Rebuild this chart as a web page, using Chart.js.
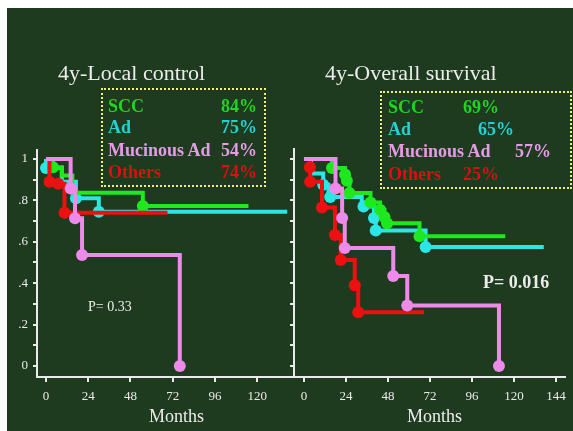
<!DOCTYPE html>
<html>
<head>
<meta charset="utf-8">
<script src="https://cdn.jsdelivr.net/npm/chart.js@4.4.0/dist/chart.umd.min.js"></script>
<style>
  body { margin: 0; background: #fff; width: 573px; height: 431px; overflow: hidden; position: relative;
         font-family: 'Liberation Serif', 'Times New Roman', serif; }
  #bg { position: absolute; left: 7px; top: 8px; width: 566px; height: 423px; background: #1e3a1f; }
  canvas { position: absolute; top: 0; }
  .t { position: absolute; white-space: nowrap; line-height: 1; }
  .w { color: #ececec; }
  .b { font-weight: bold; font-size: 18px; }
  .box { position: absolute; border: 2px dotted #eef07a; box-sizing: border-box; }
  .scc { color: #22d422; } .ad { color: #26d0d0; } .muc { color: #e49ce4; } .oth { color: #dd1010; }
</style>
</head>
<body>
<div id="bg"></div>
<canvas id="lcChart" width="300" height="431" style="left:0"></canvas>
<canvas id="osChart" width="293" height="431" style="left:280px"></canvas>

<div class="t w" style="left:58px;top:62px;font-size:22px">4y-Local control</div>
<div class="t w" style="left:325px;top:62px;font-size:22px">4y-Overall survival</div>

<div class="box" style="left:101px;top:88px;width:165px;height:99px"></div>
<div class="t b scc" style="left:108px;top:97px">SCC</div>
<div class="t b ad" style="left:108px;top:118px">Ad</div>
<div class="t b muc" style="left:108px;top:141px">Mucinous Ad</div>
<div class="t b oth" style="left:108px;top:163px">Others</div>
<div class="t b scc" style="left:200px;width:57px;text-align:right;top:97px">84%</div>
<div class="t b ad" style="left:200px;width:57px;text-align:right;top:118px">75%</div>
<div class="t b muc" style="left:200px;width:57px;text-align:right;top:141px">54%</div>
<div class="t b oth" style="left:200px;width:57px;text-align:right;top:163px">74%</div>

<div class="box" style="left:380px;top:91px;width:192px;height:98px"></div>
<div class="t b scc" style="left:388px;top:98px">SCC</div>
<div class="t b ad" style="left:388px;top:120px">Ad</div>
<div class="t b muc" style="left:388px;top:142px">Mucinous Ad</div>
<div class="t b oth" style="left:388px;top:165px">Others</div>
<div class="t b scc" style="left:463px;top:98px">69%</div>
<div class="t b ad" style="left:478px;top:120px">65%</div>
<div class="t b muc" style="left:515px;top:142px">57%</div>
<div class="t b oth" style="left:463px;top:165px">25%</div>

<div class="t w" style="left:88px;top:300px;font-size:14px">P= 0.33</div>
<div class="t w" style="left:483px;top:273px;font-size:18px;font-weight:bold">P= 0.016</div>

<div class="t w" style="left:149px;top:407px;font-size:18px">Months</div>
<div class="t w" style="left:407px;top:407px;font-size:18px">Months</div>

<script>
// ticks
const yTickValues = [0, 0.1, 0.2, 0.3, 0.4, 0.5, 0.6, 0.7, 0.8, 0.9, 1];
const lcYLabels = ['0', '', '.2', '', '.4', '', '.6', '', '.8', '', '1'];
const osYLabels = ['', '', '', '', '', '', '', '', '', '', ''];
const lcXTicks = [0, 24, 48, 72, 96, 120];
const osXTicks = [0, 24, 48, 72, 96, 120, 144];

// 4y-Local control (marks: 1 = circle drawn at that step)
const lcSccMonths = [0, 4, 9, 15, 55, 115];
const lcSccSurv   = [1, 0.96, 0.92, 0.836, 0.773, 0.773];
const lcSccMarks  = [0, 1, 0, 0, 1, 0];
const lcAdMonths = [0, 0, 9, 17, 30, 137];
const lcAdSurv   = [1, 0.956, 0.89, 0.81, 0.745, 0.745];
const lcAdMarks  = [0, 1, 0, 1, 1, 0];
const lcMucMonths = [0, 14, 16.5, 20.5, 76];
const lcMucSurv   = [1, 0.857, 0.714, 0.536, 0];
const lcMucMarks  = [0, 1, 1, 1, 1];
const lcOthMonths = [0, 2, 7, 10.5, 69];
const lcOthSurv   = [1, 0.89, 0.88, 0.74, 0.74];
const lcOthMarks  = [0, 1, 1, 1, 0];

// 4y-Overall survival
const osSccMonths = [0, 16, 23.5, 24.5, 26, 38, 43.5, 46, 47.5, 66, 115];
const osSccSurv   = [1, 0.956, 0.925, 0.895, 0.836, 0.79, 0.755, 0.72, 0.69, 0.627, 0.627];
const osSccMarks  = [0, 1, 1, 1, 1, 1, 1, 1, 1, 1, 0];
const osAdMonths = [0, 4, 5, 11, 14, 15, 33, 34, 40, 41, 69.5, 137];
const osAdSurv   = [1, 0.96, 0.93, 0.875, 0.84, 0.816, 0.79, 0.77, 0.715, 0.655, 0.575, 0.575];
const osAdMarks  = [0, 0, 0, 1, 0, 1, 0, 1, 1, 1, 1, 0];
const osMucMonths = [0, 18, 21.8, 23.3, 51, 59, 111.4];
const osMucSurv   = [1, 0.857, 0.715, 0.57, 0.435, 0.292, 0];
const osMucMarks  = [0, 1, 1, 1, 1, 1, 1];
const osOthMonths = [0, 3.4, 3.5, 10.3, 17.7, 21, 29, 31, 68.6];
const osOthSurv   = [1, 0.96, 0.89, 0.765, 0.633, 0.512, 0.39, 0.26, 0.26];
const osOthMarks  = [0, 1, 1, 1, 1, 1, 1, 1, 0];

const GREEN = '#1ee81e', CYAN = '#2ce6e6', PINK = '#ee8aea', RED = '#ee1010';
const AXIS = '#eaeaea';
const FONT = "'Liberation Serif', 'Times New Roman', serif";

function km(months, surv, marks, color) {
  return {
    data: months.map((m, i) => ({ x: m, y: surv[i] })),
    borderColor: color,
    backgroundColor: color,
    borderWidth: 4,
    stepped: 'before',
    fill: false,
    pointRadius: ctx => marks[ctx.dataIndex] ? 6 : 0,
    pointBorderWidth: 0,
    pointHoverRadius: 0,
    clip: false
  };
}

function axes(xMin, xMax, xTicks, yMax, yLabels, yWidth) {
  const grid = { display: true, drawOnChartArea: false, drawTicks: true, tickLength: 5, color: AXIS, lineWidth: 2 };
  const border = { display: true, color: AXIS, width: 2 };
  return {
    x: {
      type: 'linear', min: xMin, max: xMax,
      grid: grid, border: border,
      afterBuildTicks: s => { s.ticks = xTicks.map(v => ({ value: v })); },
      afterFit: s => { s.height = 54; },
      ticks: { color: AXIS, font: { family: FONT, size: 13 }, padding: 7, autoSkip: false, maxRotation: 0,
               callback: v => String(v) }
    },
    y: {
      type: 'linear', min: -0.053, max: yMax,
      grid: Object.assign({}, grid, { tickLength: 4 }), border: border,
      afterBuildTicks: s => { s.ticks = yTickValues.map(v => ({ value: v })); },
      afterFit: s => { s.width = yWidth; },
      ticks: { color: AXIS, font: { family: FONT, size: 13 }, padding: 5, autoSkip: false,
               callback: (v, i) => yLabels[i] }
    }
  };
}

function makeChart(id, datasets, scales, padTop) {
  return new Chart(document.getElementById(id), {
    type: 'line',
    data: { datasets: datasets },
    options: {
      responsive: false,
      animation: false,
      devicePixelRatio: 1,
      layout: { padding: { top: padTop, right: 7, left: 0, bottom: 0 } },
      plugins: { legend: { display: false }, tooltip: { enabled: false } },
      scales: scales
    }
  });
}

makeChart('lcChart', [
  km(lcMucMonths, lcMucSurv, lcMucMarks, PINK),
  km(lcOthMonths, lcOthSurv, lcOthMarks, RED),
  km(lcSccMonths, lcSccSurv, lcSccMarks, GREEN),
  km(lcAdMonths, lcAdSurv, lcAdMarks, CYAN)
], axes(-5.1, 140.3, lcXTicks, 1.043, lcYLabels, 37), 150);

makeChart('osChart', [
  km(osMucMonths, osMucSurv, osMucMarks, PINK),
  km(osOthMonths, osOthSurv, osOthMarks, RED),
  km(osSccMonths, osSccSurv, osSccMarks, GREEN),
  km(osAdMonths, osAdSurv, osAdMarks, CYAN)
], axes(-5.7, 148.9, osXTicks, 1.048, osYLabels, 14), 149);
</script>
</body>
</html>
